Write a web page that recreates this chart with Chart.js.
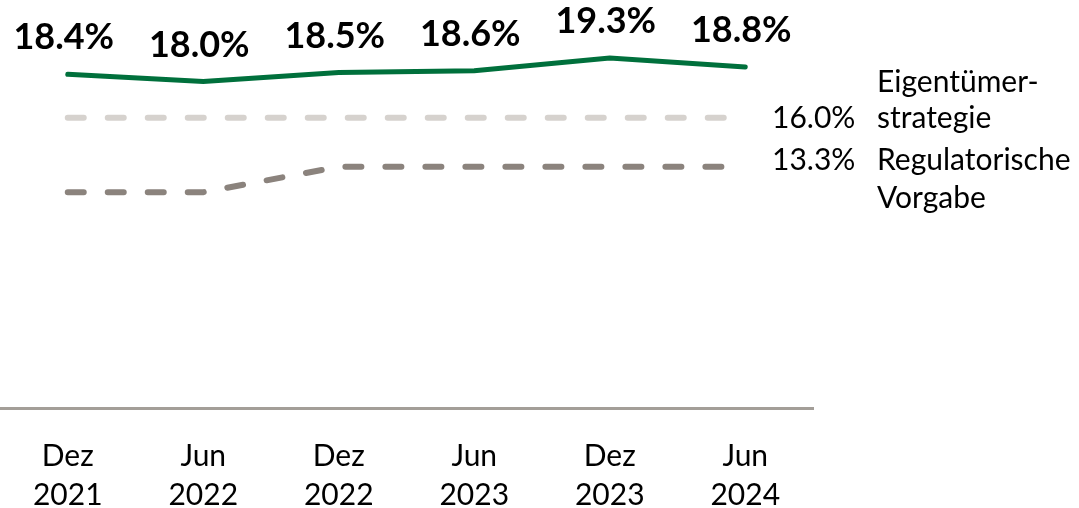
<!DOCTYPE html>
<html>
<head>
<meta charset="utf-8">
<script src="https://cdn.jsdelivr.net/npm/chart.js@4.4.1/dist/chart.umd.min.js"></script>
<style>
    html, body { margin: 0; padding: 0; background: #ffffff; }
    #wrap { width: 1079px; height: 508px; position: relative; }
</style>
</head>
<body>
<div id="wrap"><canvas id="quoteChart"></canvas></div>
<script>
// data
const periods = [['Dez', '2021'], ['Jun', '2022'], ['Dez', '2022'], ['Jun', '2023'], ['Dez', '2023'], ['Jun', '2024']];
const actualRatio = [18.4, 18.0, 18.5, 18.6, 19.3, 18.8];
const ownerTarget = [16.0, 16.0, 16.0, 16.0, 16.0, 16.0];
const regulatoryMin = [11.9, 11.9, 13.3, 13.3, 13.3, 13.3];
const ownerText = ['Eigentümer-', 'strategie'];
const regulatoryText = ['Regulatorische', 'Vorgabe'];

const FONT = 'Lato, "Noto Sans", sans-serif';

function pct(v) {
    return v.toFixed(1) + '%';
}

// bold values above the green line and notes at the right end of the dashed lines
const labelPlugin = {
    id: 'labelPlugin',
    afterDatasetsDraw(chart) {
        const ctx = chart.ctx;
        const area = chart.chartArea;
        const y = chart.scales.y;

        ctx.save();
        ctx.fillStyle = '#000000';
        ctx.textAlign = 'center';
        ctx.textBaseline = 'alphabetic';
        ctx.font = 'bold 36px ' + FONT;
        chart.getDatasetMeta(0).data.forEach(function(pt, i) {
            ctx.fillText(pct(actualRatio[i]), pt.x - 4, pt.y - 25);
        });

        ctx.textAlign = 'left';
        ctx.font = '30px ' + FONT;
        const lastOwner = ownerTarget[ownerTarget.length - 1];
        const lastReg = regulatoryMin[regulatoryMin.length - 1];
        const yOwner = y.getPixelForValue(lastOwner);
        const yReg = y.getPixelForValue(lastReg);

        ctx.fillText(pct(lastOwner), area.right - 41, yOwner + 10);
        ctx.fillText(ownerText[0], area.right + 64, yOwner - 26);
        ctx.fillText(ownerText[1], area.right + 64, yOwner + 10);

        ctx.fillText(pct(lastReg), area.right - 41, yReg + 3);
        ctx.fillText(regulatoryText[0], area.right + 64, yReg + 3);
        ctx.fillText(regulatoryText[1], area.right + 64, yReg + 41);
        ctx.restore();
    }
};

const ctx = document.getElementById('quoteChart').getContext('2d');
new Chart(ctx, {
    type: 'line',
    data: {
        labels: periods,
        datasets: [
            {
                data: actualRatio,
                borderColor: '#00703c',
                borderWidth: 5,
                pointRadius: 0,
                borderCapStyle: 'round',
                tension: 0
            },
            {
                data: ownerTarget,
                borderColor: '#d6d2ce',
                borderWidth: 6,
                borderDash: [16, 24],
                borderCapStyle: 'round',
                pointRadius: 0,
                tension: 0
            },
            {
                data: regulatoryMin,
                borderColor: '#8b837d',
                borderWidth: 6,
                borderDash: [16, 24],
                borderCapStyle: 'round',
                pointRadius: 0,
                tension: 0
            }
        ]
    },
    options: {
        responsive: true,
        maintainAspectRatio: false,
        animation: false,
        layout: {
            padding: { left: 0, right: 266, top: 0, bottom: 0 }
        },
        plugins: {
            legend: { display: false },
            tooltip: { enabled: false }
        },
        scales: {
            x: {
                offset: true,
                grid: { display: true, color: 'transparent', drawTicks: false },
                border: { display: true, color: '#a39e98', width: 3 },
                ticks: {
                    color: '#000000',
                    padding: 29,
                    font: { family: FONT, size: 30, lineHeight: 1.3 },
                    maxRotation: 0,
                    autoSkip: false
                },
                afterFit(scale) {
                    scale.height = 100;
                }
            },
            y: {
                display: false,
                min: 0,
                max: 22.5
            }
        }
    },
    plugins: [labelPlugin]
});
</script>
</body>
</html>
